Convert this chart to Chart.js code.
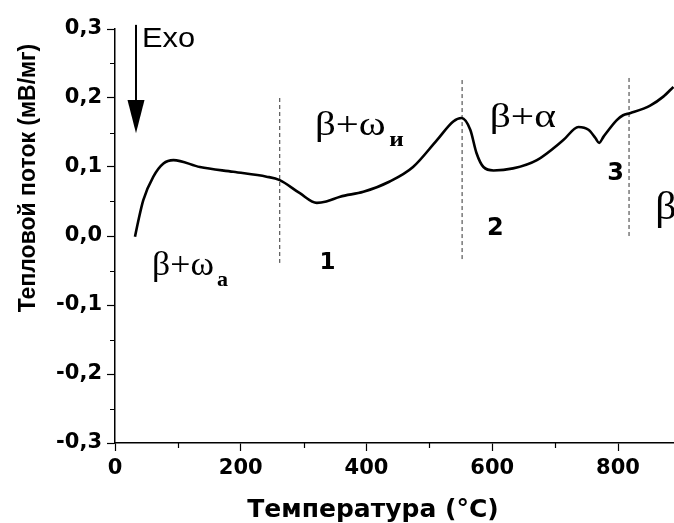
<!DOCTYPE html>
<html>
<head>
<meta charset="utf-8">
<script src="https://cdn.jsdelivr.net/npm/chart.js@4/dist/chart.umd.min.js"></script>
<style>
html,body{margin:0;padding:0;background:#fff;overflow:hidden;}
#wrap{width:674px;height:523px;}
</style>
</head>
<body>
<div id="wrap"><canvas id="c" width="674" height="523"></canvas></div>
<script>
// ---- data ----
const temperature = [31.8, 36.6, 45, 61, 77, 93, 135, 188, 241, 262, 294, 321, 336, 358, 395, 437, 474, 512, 538, 551, 565, 575, 586, 602, 633, 671, 713, 737, 753, 764, 770, 777, 798, 808, 819, 851, 872, 888];
const heatFlow    = [-0.001, 0.020, 0.052, 0.086, 0.105, 0.110, 0.100, 0.093, 0.086, 0.081, 0.062, 0.048, 0.050, 0.057, 0.064, 0.079, 0.100, 0.139, 0.166, 0.171, 0.154, 0.120, 0.100, 0.095, 0.098, 0.110, 0.139, 0.158, 0.154, 0.142, 0.135, 0.144, 0.168, 0.175, 0.178, 0.189, 0.202, 0.216];
// vertical dashed boundaries: x, top, bottom
const boundaryX      = [262, 552, 817.5];
const boundaryTop    = [0.200, 0.226, 0.229];
const boundaryBottom = [-0.039, -0.035, -0.003];
const xTickValues = [0, 200, 400, 600, 800];
const yTickValues = [-0.3, -0.2, -0.1, 0.0, 0.1, 0.2, 0.3];

const curve = temperature.map((t, i) => ({x: t, y: heatFlow[i]}));
const dashedSets = boundaryX.map((bx, i) => ({
  data: [{x: bx, y: boundaryTop[i]}, {x: bx, y: boundaryBottom[i]}],
  borderColor: '#333', borderWidth: 1, borderDash: [4, 3],
  pointRadius: 0, tension: 0, fill: false
}));

const SANS = '"Liberation Sans", Arial, sans-serif';
const WIDE = '"DejaVu Sans", sans-serif';
const SERIF = '"Liberation Serif", "Times New Roman", serif';

const labels = [
  {text: 'Exo', x: 43, y: 0.274, font: '28px ' + SANS, hs: 1.1},
  {text: 'β+ω', sub: 'а', x: 59, y: -0.057, font: '34px ' + SERIF, subFont: 'bold 21px ' + SERIF, hs: 1.05},
  {text: 'β+ω', sub: 'и', x: 318, y: 0.146, font: '34px ' + SERIF, subFont: 'bold 21px ' + SERIF, hs: 1.2},
  {text: 'β+α', x: 596, y: 0.158, font: '34px ' + SERIF, hs: 1.22},
  {text: 'β', x: 859, y: 0.024, font: '40px ' + SERIF, hs: 1.05},
  {text: '1', x: 338, y: -0.048, font: 'bold 23px ' + WIDE, center: true, hs: 1},
  {text: '2', x: 605, y: 0.001, font: 'bold 24px ' + WIDE, center: true, hs: 1},
  {text: '3', x: 796, y: 0.081, font: 'bold 24px ' + WIDE, center: true, hs: 1}
];
const arrow = {x: 33.4, yFrom: 0.306, yHead: 0.197, yTip: 0.149};

const decor = {
  id: 'decor',
  afterDraw(chart) {
    const ctx = chart.ctx, xs = chart.scales.x, ys = chart.scales.y;
    ctx.save();
    ctx.fillStyle = '#000'; ctx.strokeStyle = '#000';
    // minor ticks
    ctx.lineWidth = 1.2;
    ctx.beginPath();
    [100, 300, 500, 700].forEach(v => {
      const px = Math.round(xs.getPixelForValue(v)) + 0.5;
      ctx.moveTo(px, ys.bottom); ctx.lineTo(px, ys.bottom + 5);
    });
    [-0.25, -0.15, -0.05, 0.05, 0.15, 0.25].forEach(v => {
      const py = Math.round(ys.getPixelForValue(v)) + 0.5;
      ctx.moveTo(xs.left, py); ctx.lineTo(xs.left - 5, py);
    });
    ctx.stroke();
    // arrow
    const ax = xs.getPixelForValue(arrow.x);
    ctx.lineWidth = 2;
    ctx.beginPath();
    ctx.moveTo(ax, ys.getPixelForValue(arrow.yFrom));
    ctx.lineTo(ax, ys.getPixelForValue(arrow.yHead) + 2);
    ctx.stroke();
    ctx.beginPath();
    ctx.moveTo(ax - 8.5, ys.getPixelForValue(arrow.yHead));
    ctx.lineTo(ax + 8.5, ys.getPixelForValue(arrow.yHead));
    ctx.lineTo(ax, ys.getPixelForValue(arrow.yTip));
    ctx.closePath(); ctx.fill();
    // text labels
    ctx.textBaseline = 'alphabetic';
    labels.forEach(l => {
      const px = xs.getPixelForValue(l.x), py = ys.getPixelForValue(l.y);
      ctx.save();
      ctx.translate(px, py);
      ctx.scale(l.hs, 1);
      ctx.font = l.font;
      ctx.textAlign = l.center ? 'center' : 'left';
      ctx.fillText(l.text, 0, 0);
      if (l.sub) {
        const w = ctx.measureText(l.text).width;
        ctx.font = l.subFont; ctx.textAlign = 'left';
        ctx.fillText(l.sub, w + 3, 11);
      }
      ctx.restore();
    });
    // axis titles
    ctx.font = 'bold 25px ' + WIDE;
    ctx.textAlign = 'center';
    ctx.fillText('Температура (°C)', 373, 517);
    ctx.save();
    ctx.font = 'bold 23px ' + SANS;
    ctx.translate(35, 178);
    ctx.rotate(-Math.PI / 2);
    ctx.fillText('Тепловой поток (мВ/мг)', 0, 0);
    ctx.restore();
    ctx.restore();
  }
};

const fmt = v => Math.abs(v) < 1e-9 ? '0,0' : v.toFixed(1).replace('.', ',');

new Chart(document.getElementById('c'), {
  type: 'line',
  data: {
    datasets: [{
      data: curve, borderColor: '#000', borderWidth: 2.6, pointRadius: 0,
      cubicInterpolationMode: 'monotone', fill: false
    }, ...dashedSets]
  },
  options: {
    responsive: false, animation: false,
    layout: {padding: {top: 29, right: 0, left: 0, bottom: 0}},
    plugins: {legend: {display: false}, tooltip: {enabled: false}},
    scales: {
      x: {
        type: 'linear', min: 0, max: 889,
        afterFit: s => { s.height = 80; },
        afterBuildTicks: s => { s.ticks = xTickValues.map(v => ({value: v})); },
        ticks: {stepSize: 200, includeBounds: false, color: '#000', padding: 5,
          font: {family: WIDE, size: 21, weight: 'bold'}},
        grid: {drawOnChartArea: false, tickLength: 8, tickColor: '#000', tickWidth: 1.2},
        border: {color: '#000', width: 1.5}
      },
      y: {
        type: 'linear', min: -0.3, max: 0.3,
        afterFit: s => { s.width = 115; },
        afterBuildTicks: s => { s.ticks = yTickValues.map(v => ({value: v})); },
        ticks: {color: '#000', padding: 5, callback: fmt,
          font: {family: WIDE, size: 21, weight: 'bold'}},
        grid: {drawOnChartArea: false, tickLength: 8, tickColor: '#000', tickWidth: 1.2},
        border: {color: '#000', width: 1.5}
      }
    }
  },
  plugins: [decor]
});
</script>
</body>
</html>
